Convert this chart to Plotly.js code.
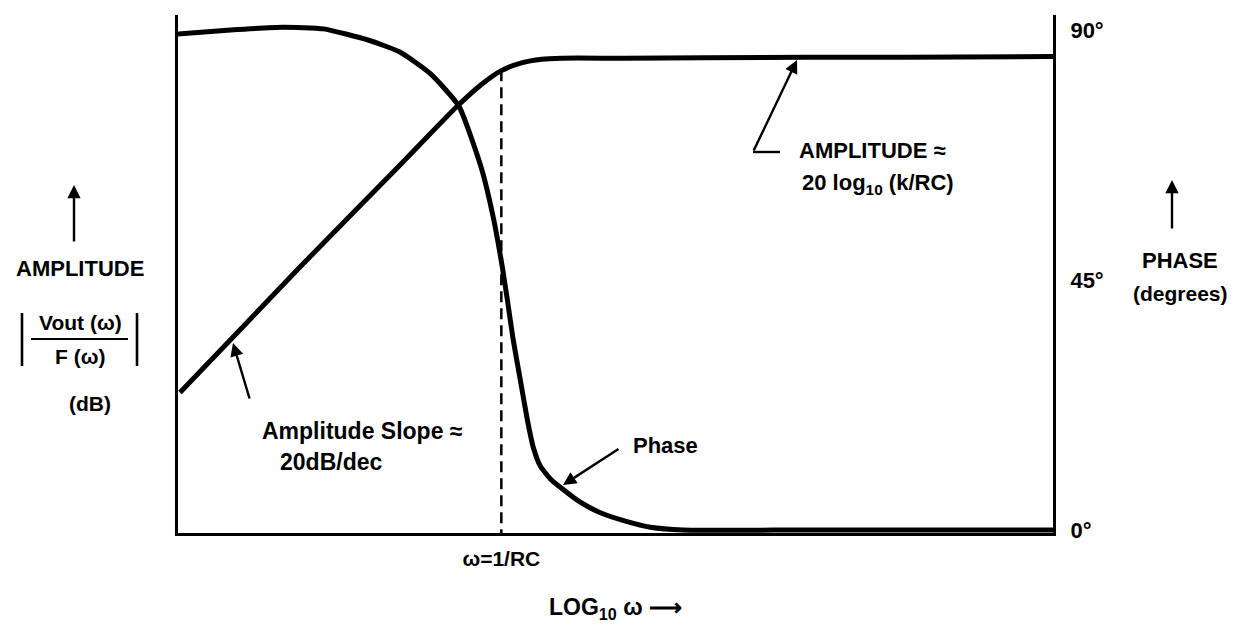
<!DOCTYPE html>
<html>
<head>
<meta charset="utf-8">
<script src="https://cdn.plot.ly/plotly-3.0.1.min.js"></script>
<style>html,body{margin:0;padding:0;background:#fff;}</style>
</head>
<body>
<div id="chart" style="width:1241px;height:626px;"></div>
<script>
// ---- data ----
// x: log10(omega*RC) in decades
const ampX   = [-1.59, -1.0, -0.5, -0.22, -0.1, 0.0, 0.1, 0.2, 0.3, 0.6, 1.0, 2.0, 2.73];
const ampDb  = [-32.2, -20.2, -10.3, -4.7, -2.6, -1.25, -0.5, -0.15, -0.05, -0.05, 0.0, 0.05, 0.1];
const phaseX   = [-1.6, -1.34, -1.08, -0.88, -0.66, -0.5, -0.35, -0.21, -0.1, -0.04, 0.005, 0.03, 0.059, 0.094, 0.129, 0.158, 0.193, 0.243, 0.292, 0.391, 0.49, 0.614, 0.738, 0.9, 1.5, 2.73];
const phaseDeg = [89.3, 90.0, 90.5, 90.2, 88.2, 86.0, 82.1, 76.3, 65.3, 56.3, 47.3, 41.4, 34.2, 27.0, 19.8, 14.9, 11.5, 9.2, 7.7, 5.0, 3.1, 1.6, 0.5, 0.0, 0.0, 0.0];
const cornerX  = [0, 0];
const cornerDb = [-1.2, -45.7];
const phaseTickVals = [0, 45, 90];
const phaseTickText = ['0°', '45°', '90°'];
const xTickVals = [0];
const xTickText = ['ω=1/RC'];

// ---- layout helpers (pixel -> paper) ----
const L = 178, R = 1053, T = 15, B = 533;
const px = x => (x - L) / (R - L);
const py = y => (B - y) / (B - T);
const FONT = 'Liberation Sans, Arial, sans-serif';
const f = (s) => ({family: FONT, size: s || 22, color: '#000', weight: 'bold'});

const traces = [
  {x: ampX, y: ampDb, yaxis: 'y', mode: 'lines', line: {color: '#000', width: 5, shape: 'spline', smoothing: 0.6}, hoverinfo: 'skip'},
  {x: phaseX, y: phaseDeg, yaxis: 'y2', mode: 'lines', line: {color: '#000', width: 5, shape: 'spline', smoothing: 0.5}, hoverinfo: 'skip'},
  {x: cornerX, y: cornerDb, yaxis: 'y', mode: 'lines', line: {color: '#000', width: 2.5, dash: '11px,6px'}, hoverinfo: 'skip'}
];

function txt(x, y, text, opts) {
  return Object.assign({xref: 'paper', yref: 'paper', x: px(x), y: py(y), text: text, showarrow: false,
    xanchor: 'center', yanchor: 'middle', font: f()}, opts || {});
}
function arrow(tipX, tipY, tailX, tailY) {
  return {xref: 'paper', yref: 'paper', x: px(tipX), y: py(tipY), ax: tailX - tipX, ay: tailY - tipY,
    axref: 'pixel', ayref: 'pixel', text: '', showarrow: true, arrowhead: 2, arrowsize: 1.1, arrowwidth: 2.4, arrowcolor: '#000', standoff: 0};
}

const annotations = [
  txt(80, 268, 'AMPLITUDE'),
  txt(80, 322, 'Vout (ω)', {font: f(21)}),
  txt(80, 356, 'F (ω)', {font: f(21)}),
  txt(90, 404, '(dB)', {font: f(21)}),
  txt(362, 431, 'Amplitude Slope ≈', {font: f(23)}),
  txt(331, 462, '20dB/dec', {font: f(23)}),
  txt(665, 445, 'Phase'),
  txt(797, 150, 'AMPLITUDE ≈', {xanchor: 'left'}),
  txt(800, 184, '20 log<sub>10</sub> (k/RC)', {xanchor: 'left'}),
  txt(1180, 260, 'PHASE'),
  txt(1180, 293, '(degrees)', {font: f(21)}),
  arrow(233, 343, 250, 400),
  arrow(563, 485, 620, 448),
  arrow(797, 60, 753, 152),
  arrow(74, 185, 74, 243),
  arrow(1172, 180, 1172, 230)
];

const ln = (x0, y0, x1, y1, w) => ({type: 'line', xref: 'paper', yref: 'paper', x0: px(x0), y0: py(y0), x1: px(x1), y1: py(y1), line: {color: '#000', width: w || 2.4}});
const shapes = [
  ln(753, 152, 780, 152),
  ln(31, 339, 128, 339, 2.2),
  ln(22, 313, 22, 366, 2.6),
  ln(137, 313, 137, 366, 2.6)
];

const layout = {
  width: 1241, height: 626,
  margin: {l: L, r: 1241 - R, t: T, b: 626 - B, pad: 0},
  paper_bgcolor: '#fff', plot_bgcolor: '#fff',
  showlegend: false,
  font: f(),
  xaxis: {range: [-1.6, 2.73], showline: true, linewidth: 3, linecolor: '#000', showgrid: false, zeroline: false,
    tickvals: xTickVals, ticktext: xTickText, ticks: 'outside', ticklen: 5, tickcolor: 'rgba(0,0,0,0)', tickfont: f(21),
    title: {text: 'LOG<sub>10</sub> ω ⟶', font: f(23), standoff: 30}, fixedrange: true},
  yaxis: {range: [-45.7, 4.1], showline: true, linewidth: 3, linecolor: '#000', showgrid: false, zeroline: false,
    showticklabels: false, ticks: '', fixedrange: true},
  yaxis2: {range: [-0.54, 92.7], overlaying: 'y', side: 'right', showline: true, linewidth: 3, linecolor: '#000',
    showgrid: false, zeroline: false, tickvals: phaseTickVals, ticktext: phaseTickText, ticks: 'outside', ticklen: 10,
    tickcolor: 'rgba(0,0,0,0)', tickfont: f(22), fixedrange: true},
  annotations: annotations,
  shapes: shapes
};

Plotly.newPlot('chart', traces, layout, {displayModeBar: false, staticPlot: true});
</script>
</body>
</html>
